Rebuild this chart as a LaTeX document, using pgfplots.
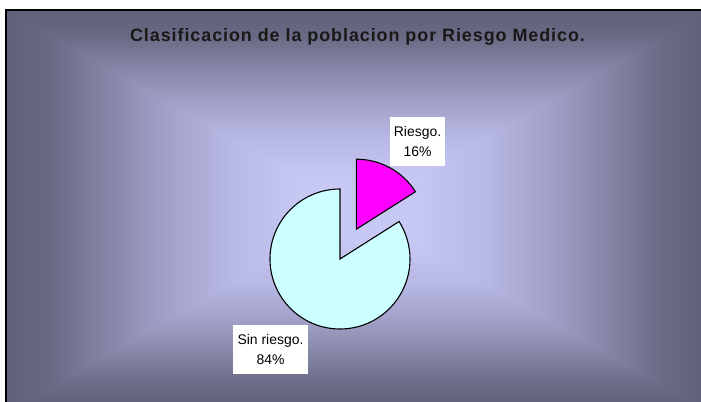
\documentclass[border=0pt]{standalone}
\usepackage{pgfplots}
\pgfplotsset{compat=1.18}
\usepackage{fontspec}
\setmainfont{Liberation Sans}
\newfontfamily\titlefont{Liberation Sans}[LetterSpace=5.2]

% background gradient (rectangular, from centre)
\definecolor{bgdk}{RGB}{95,95,120}
\definecolor{bgc1}{RGB}{106,106,133}
\definecolor{bgc2}{RGB}{154,154,192}
\definecolor{bgc3}{RGB}{184,184,229}
\definecolor{bglt}{RGB}{200,200,245}
\definecolor{slicesin}{RGB}{204,255,255}
\definecolor{slicerie}{RGB}{255,0,255}

\pgfdeclareverticalshading{bgup}{100bp}{color(0bp)=(bgdk); color(25bp)=(bgdk); color(31.5bp)=(bgc1); color(45.5bp)=(bgc2); color(57bp)=(bgc3); color(67.5bp)=(bglt); color(100bp)=(bglt)}
\pgfdeclareverticalshading{bgdown}{100bp}{color(0bp)=(bglt); color(32.5bp)=(bglt); color(43bp)=(bgc3); color(54.5bp)=(bgc2); color(68.5bp)=(bgc1); color(75bp)=(bgdk); color(100bp)=(bgdk)}
\pgfdeclarehorizontalshading{bgright}{100bp}{color(0bp)=(bgdk); color(25bp)=(bgdk); color(31.5bp)=(bgc1); color(45.5bp)=(bgc2); color(57bp)=(bgc3); color(67.5bp)=(bglt); color(100bp)=(bglt)}
\pgfdeclarehorizontalshading{bgleft}{100bp}{color(0bp)=(bglt); color(32.5bp)=(bglt); color(43bp)=(bgc3); color(54.5bp)=(bgc2); color(68.5bp)=(bgc1); color(75bp)=(bgdk); color(100bp)=(bgdk)}

% data (percent)
\def\riesgo{16}
\def\sinriesgo{84}

\begin{document}
\begin{tikzpicture}
\pgfmathsetmacro{\angR}{360*\riesgo/(\riesgo+\sinriesgo)}
\pgfmathsetmacro{\startR}{90-\angR}
\pgfmathsetmacro{\midR}{90-\angR/2}
\pgfmathsetmacro{\endS}{450-\angR}
\pgfmathsetmacro{\rx}{340+34*cos(\midR)}
\pgfmathsetmacro{\ry}{143+34*sin(\midR)}
\begin{axis}[
  at={(0,0)}, anchor=south west,
  x=1bp, y=1bp,
  xmin=0, xmax=701, ymin=0, ymax=402,
  hide axis, clip=false,
]
% page + chart area
\fill[white] (0,0) rectangle (701,402);
\shade[shading=bgright] (6,-10) rectangle (357.5,392);
\shade[shading=bgleft]  (357.5,-10) rectangle (709,392);
\shade[shading=bgup]    (6,-10) -- (709,-10) -- (357.5,191) -- cycle;
\shade[shading=bgdown]  (6,392) -- (709,392) -- (357.5,191) -- cycle;
\draw[black, line width=1.6bp] (6,-20) -- (6,392) -- (720,392);

% title
\node[anchor=base, text=black!90, font=\titlefont\bfseries\fontsize{18}{22}\selectfont]
  at (357.5,361) {Clasificacion de la poblacion por Riesgo Medico.};

% pie slices
\filldraw[fill=slicesin, draw=black, line width=1.1bp]
  (340,143) -- ++(90:70bp) arc[start angle=90, end angle=\endS, radius=70bp] -- cycle;
\filldraw[fill=slicerie, draw=black, line width=1.1bp]
  (\rx,\ry) -- ++(\startR:70bp) arc[start angle=\startR, end angle=90, radius=70bp] -- cycle;

% data labels
\node[fill=white, inner sep=0pt, minimum width=55bp, minimum height=49bp, align=center,
  font=\fontsize{14}{20}\selectfont] at (417.5,260.5) {Riesgo.\\16\%};
\node[fill=white, inner sep=0pt, minimum width=75bp, minimum height=49bp, align=center,
  font=\fontsize{14}{20}\selectfont] at (270.5,52.5) {Sin riesgo.\\84\%};
\end{axis}
\pgfresetboundingbox
\useasboundingbox (0,0) rectangle (701bp,402bp);
\end{tikzpicture}
\end{document}
